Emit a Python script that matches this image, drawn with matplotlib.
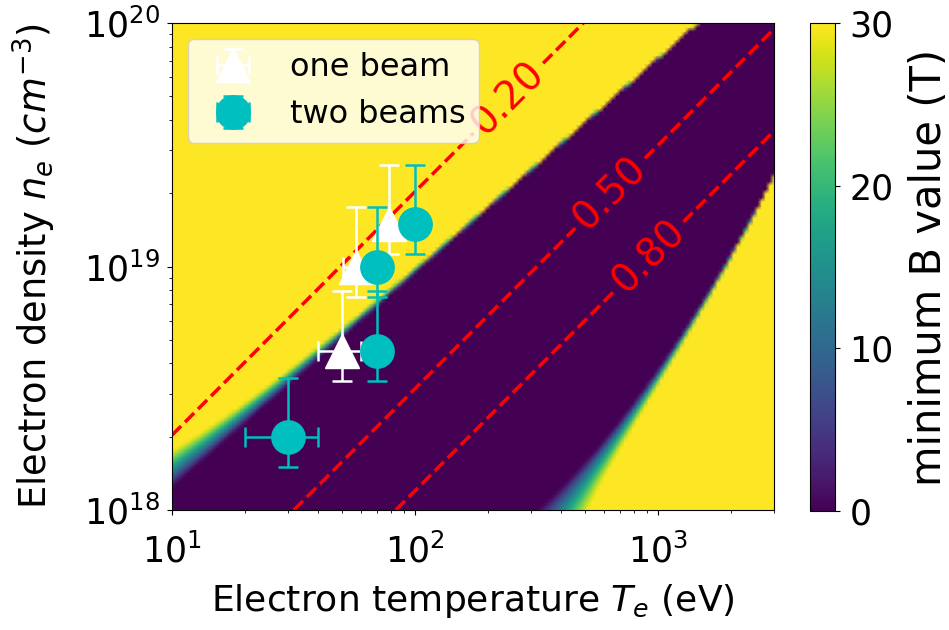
import numpy as np
import matplotlib
matplotlib.use("Agg")
import matplotlib.pyplot as plt

# Measured plasma conditions: one-beam shots
T_one = [50, 57, 78]                 # eV
T_one_err = [10, 6.5, 0]
n_one = [4.5e18, 1.0e19, 1.5e19]     # cm^-3
n_one_lo = [3.4e18, 7.5e18, 1.13e19]
n_one_hi = [7.9e18, 1.75e19, 2.6e19]

# Measured plasma conditions: two-beam shots
T_two = [30, 70, 70, 100]
T_two_err = [10, 0, 0, 0]
n_two = [2.0e18, 4.5e18, 1.0e19, 1.5e19]
n_two_lo = [1.5e18, 3.4e18, 7.5e18, 1.13e19]
n_two_hi = [3.5e18, 7.9e18, 1.75e19, 2.6e19]

# Contour levels and the density/temperature ratio (cm^-3 / eV) where each is reached
contour_values = [0.20, 0.50, 0.80]
contour_ratio = [2.03e17, 3.15e16, 1.2e16]
label_T = [242, 635, 915]            # temperature at which each contour is labelled

# Edges of the zero-field band (log10 n as a function of log10 T)
upper_edge = [18.094, 0.88]          # log n = a + b (log T - 1)
upper_width = [0.15, -0.85]          # ramp width (decades) = w0 (T/10)^p
lower_edge = [2.506, 0.917, 0.514]   # log n = 18 + b (x - x0) + c (x - x0)^2
lower_width = [0.21, -1.0]           # ramp width = w0 (n/1e18)^p
B_max = 30.0

T_lim = (10, 3000)
n_lim = (1e18, 1e20)


def min_field(T, n):
    x = np.log10(T)
    y = np.log10(n)
    yu = upper_edge[0] + upper_edge[1] * (x - 1)
    wu = upper_width[0] * (T / 10.0) ** upper_width[1]
    x0, b, c = lower_edge
    yl = 18 + b * (x - x0) + c * (x - x0) ** 2
    wl = lower_width[0] * (n / 1e18) ** lower_width[1]
    du = (y - yu) / wu
    dl = (yl - y) / wl
    return B_max * np.clip(np.maximum(du, dl), 0, None)


fig = plt.figure(figsize=(9.49, 6.3), dpi=100)
ax = fig.add_axes([172 / 949, 1 - 510 / 630, 602 / 949, 487 / 630])
cax = fig.add_axes([810 / 949, 1 - 511 / 630, 25 / 949, 488 / 630])

# log axes first, so contour labels follow the lines as drawn
ax.set_xscale("log")
ax.set_yscale("log")
ax.set_xlim(*T_lim)
ax.set_ylim(*n_lim)

Tg = np.logspace(np.log10(T_lim[0]), np.log10(T_lim[1]), 150)
ng = np.logspace(np.log10(n_lim[0]), np.log10(n_lim[1]), 121)
TT, NN = np.meshgrid(Tg, ng)
mesh = ax.pcolormesh(TT, NN, min_field(TT, NN), cmap="viridis", vmin=0, vmax=B_max,
                     shading="gouraud", rasterized=True)

Tf = np.logspace(np.log10(T_lim[0]), np.log10(T_lim[1]), 300)
nf = np.logspace(np.log10(n_lim[0]), np.log10(n_lim[1]), 300)
TF, NF = np.meshgrid(Tf, nf)
order = np.argsort(contour_ratio)
levels = [contour_ratio[i] for i in order]
cs = ax.contour(TF, NF, NF / TF, levels=levels, colors="red", linestyles="--",
                linewidths=2.5)
fmt = {contour_ratio[i]: f"{contour_values[i]:.2f}" for i in range(len(contour_values))}
label_pos = [(t, r * t) for t, r in zip(label_T, contour_ratio)]
ax.clabel(cs, fmt=fmt, fontsize=28, inline=True, inline_spacing=6, manual=label_pos)

ax.errorbar(T_one, n_one, xerr=T_one_err,
            yerr=[np.subtract(n_one, n_one_lo), np.subtract(n_one_hi, n_one)],
            fmt="^", color="w", ms=24, capsize=7.5, elinewidth=1.8, capthick=1.8,
            label="one beam", zorder=5)
ax.errorbar(T_two, n_two, xerr=T_two_err,
            yerr=[np.subtract(n_two, n_two_lo), np.subtract(n_two_hi, n_two)],
            fmt="o", color="c", ms=24, capsize=7.5, elinewidth=1.8, capthick=1.8,
            label="two beams", zorder=6)

ax.set_xlim(*T_lim)
ax.set_ylim(*n_lim)
ax.set_xlabel(r"Electron temperature $T_e$ (eV)", fontsize=26, labelpad=9)
ax.set_ylabel(r"Electron density $n_e$ $(cm^{-3})$", fontsize=26.5, labelpad=19)
ax.tick_params(axis="both", which="major", labelsize=25)
ax.tick_params(axis="x", which="major", pad=13.5)
ax.tick_params(axis="y", which="major", pad=5)

ax.legend(loc="upper left", fontsize=23, borderaxespad=0.5)

cb = fig.colorbar(mesh, cax=cax, ticks=[0, 10, 20, 30])
cb.ax.tick_params(labelsize=25, pad=7)
cb.set_label("minimum B value (T)", fontsize=30, labelpad=10)

fig.savefig("out.png", dpi=100)
